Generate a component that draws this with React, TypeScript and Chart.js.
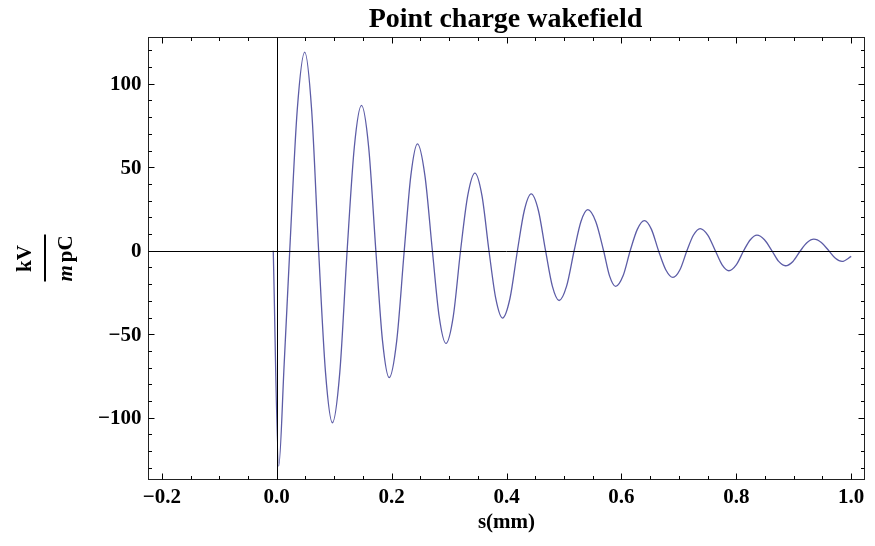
import React, { useEffect, useRef } from "react";
import { Chart, registerables } from "chart.js";

Chart.register(...registerables);

// ---- data (zero crossings, half-amplitude shoulders, extrema) ----
const sValues = [
  -0.006, 0.0035, 0.013, 0.0227, 0.0357, 0.0488, 0.0609, 0.073, 0.085, 0.097,
  0.1098, 0.1226, 0.1351, 0.1476, 0.1601, 0.1726, 0.1842, 0.1958, 0.2089, 0.222,
  0.2335, 0.245, 0.258, 0.271, 0.2828, 0.2946, 0.3073, 0.32, 0.3325, 0.345,
  0.3573, 0.3695, 0.3813, 0.393, 0.406, 0.419, 0.431, 0.443, 0.4555, 0.468,
  0.4798, 0.4915, 0.5046, 0.5177, 0.5296, 0.5415, 0.5553, 0.569, 0.5795, 0.59,
  0.6027, 0.6153, 0.6277, 0.64, 0.6523, 0.6646, 0.6772, 0.6897, 0.7019, 0.714,
  0.7255, 0.737, 0.7503, 0.7635, 0.7753, 0.787, 0.7999, 0.8128, 0.8244, 0.836,
  0.849, 0.862, 0.8738, 0.8855, 0.8986, 0.9116, 0.9233, 0.935, 0.948, 0.961,
  0.9725, 0.984, 1.0,
];
const wakeValues = [
  0, -129, -68, 0, 84, 119, 84, 0, -73, -103,
  -73, 0, 62, 87, 62, 0, -54, -76, -54, 0,
  45, 64, 45, 0, -39.4, -55.5, -39.4, 0, 33, 46.5,
  33, 0, -28.6, -40.3, -28.6, 0, 24.1, 34, 24.1, 0,
  -21.2, -29.8, -21.2, 0, 17.5, 24.6, 17.5, 0, -15.2, -21.4,
  -15.2, 0, 12.8, 18, 12.8, 0, -11.4, -16, -11.4, 0,
  9.4, 13.3, 9.4, 0, -8.5, -12, -8.5, 0, 6.6, 9.3,
  6.6, 0, -6.4, -9, -6.4, 0, 4.9, 6.9, 4.9, 0,
  -4.5, -6.4, -3.4,
];
const xTickValues = [-0.2, 0.0, 0.2, 0.4, 0.6, 0.8, 1.0];
const xTickLabels = ["\u22120.2", "0.0", "0.2", "0.4", "0.6", "0.8", "1.0"];
const yTickValues = [-100, -50, 0, 50, 100];
const yTickLabels = ["\u2212100", "\u221250", "0", "50", "100"];
const xMinorStep = 0.05;
const yMinorStep = 10;
const titleText = "Point charge wakefield";
const xAxisLabel = "s(mm)";

const FONT = "'Liberation Serif', 'DejaVu Serif', serif";

const framePlugin = {
  id: "mmaFrame",
  afterDatasetsDraw(chart: any) {
    const ctx = chart.ctx as CanvasRenderingContext2D;
    const area = chart.chartArea;
    const xs = chart.scales.x;
    const ys = chart.scales.y;
    const L = Math.round(area.left) + 0.5;
    const R = Math.round(area.right) - 0.5;
    const T = Math.round(area.top) + 0.5;
    const B = Math.round(area.bottom) - 0.5;
    ctx.save();

    // axes through origin
    ctx.strokeStyle = "#000";
    ctx.lineWidth = 1;
    const x0 = Math.round(xs.getPixelForValue(0)) + 0.5;
    const y0 = Math.round(ys.getPixelForValue(0)) + 0.5;
    ctx.beginPath();
    ctx.moveTo(x0, T);
    ctx.lineTo(x0, B);
    ctx.moveTo(L, y0);
    ctx.lineTo(R, y0);
    ctx.stroke();

    // frame
    ctx.strokeStyle = "#222";
    ctx.strokeRect(L, T, R - L, B - T);

    // ticks
    ctx.strokeStyle = "#000";
    ctx.beginPath();
    const xmin = xs.min, xmax = xs.max;
    for (let k = Math.ceil(xmin / xMinorStep); k * xMinorStep <= xmax + 1e-9; k++) {
      const v = k * xMinorStep;
      const major = k % 4 === 0;
      const len = major ? 6 : 3.5;
      const px = Math.round(xs.getPixelForValue(v)) + 0.5;
      ctx.moveTo(px, B);
      ctx.lineTo(px, B - len);
      ctx.moveTo(px, T);
      ctx.lineTo(px, T + len);
    }
    const ymin = ys.min, ymax = ys.max;
    for (let k = Math.ceil(ymin / yMinorStep); k * yMinorStep <= ymax + 1e-9; k++) {
      const v = k * yMinorStep;
      const major = k % 5 === 0;
      const len = major ? 6 : 3.5;
      const py = Math.round(ys.getPixelForValue(v)) + 0.5;
      ctx.moveTo(L, py);
      ctx.lineTo(L + len, py);
      ctx.moveTo(R, py);
      ctx.lineTo(R - len, py);
    }
    ctx.stroke();

    // tick labels
    ctx.fillStyle = "#000";
    ctx.font = `bold 21px ${FONT}`;
    ctx.textAlign = "center";
    ctx.textBaseline = "middle";
    xTickValues.forEach((v, i) => {
      ctx.fillText(xTickLabels[i], xs.getPixelForValue(v), B + 18);
    });
    ctx.textAlign = "right";
    yTickValues.forEach((v, i) => {
      ctx.fillText(yTickLabels[i], L - 7, ys.getPixelForValue(v) + 1);
    });

    // title
    const cx = (L + R) / 2;
    ctx.textAlign = "center";
    ctx.textBaseline = "alphabetic";
    ctx.font = `bold 28px ${FONT}`;
    ctx.fillText(titleText, cx - 1, 27);

    // x label
    ctx.textBaseline = "middle";
    ctx.font = `bold 21px ${FONT}`;
    ctx.fillText(xAxisLabel, cx, 523);

    // y label as a fraction kV / (m pC), rotated
    const cy = (T + B) / 2;
    ctx.save();
    ctx.translate(45, cy);
    ctx.rotate(-Math.PI / 2);
    ctx.font = `bold 21px ${FONT}`;
    ctx.textAlign = "center";
    ctx.textBaseline = "middle";
    ctx.fillText("kV", 0, -19);
    ctx.fillRect(-23, -1, 47, 2);
    ctx.font = `italic bold 21px ${FONT}`;
    const mW = ctx.measureText("m").width;
    ctx.font = `bold 21px ${FONT}`;
    const pcW = ctx.measureText("pC").width;
    const gap = 3;
    const total = mW + gap + pcW;
    ctx.textAlign = "left";
    ctx.font = `italic bold 21px ${FONT}`;
    ctx.fillText("m", -total / 2, 22);
    ctx.font = `bold 21px ${FONT}`;
    ctx.fillText("pC", -total / 2 + mW + gap, 22);
    ctx.restore();

    ctx.restore();
  },
};

export default function App() {
  const canvasRef = useRef<HTMLCanvasElement | null>(null);
  useEffect(() => {
    document.body.style.margin = "0";
    const canvas = canvasRef.current;
    if (!canvas) return;
    const points = sValues.map((s, i) => ({ x: s, y: wakeValues[i] }));
    const chart = new Chart(canvas, {
      type: "line",
      data: {
        datasets: [
          {
            data: points,
            borderColor: "#5c5ca6",
            borderWidth: 1.3,
            pointRadius: 0,
            fill: false,
            cubicInterpolationMode: "monotone",
          },
        ],
      },
      options: {
        responsive: false,
        animation: false,
        layout: { padding: { left: 148, right: 10, top: 37, bottom: 66 } },
        plugins: { legend: { display: false }, tooltip: { enabled: false }, title: { display: false } },
        scales: {
          x: { type: "linear", min: -0.224, max: 1.024, display: false },
          y: { type: "linear", min: -137.3, max: 128, display: false },
        },
      },
      plugins: [framePlugin],
    });
    return () => chart.destroy();
  }, []);
  return (
    <div style={{ position: "fixed", left: 0, top: 0, width: 875, height: 546, background: "#fff" }}>
      <canvas ref={canvasRef} width={875} height={546} />
    </div>
  );
}
